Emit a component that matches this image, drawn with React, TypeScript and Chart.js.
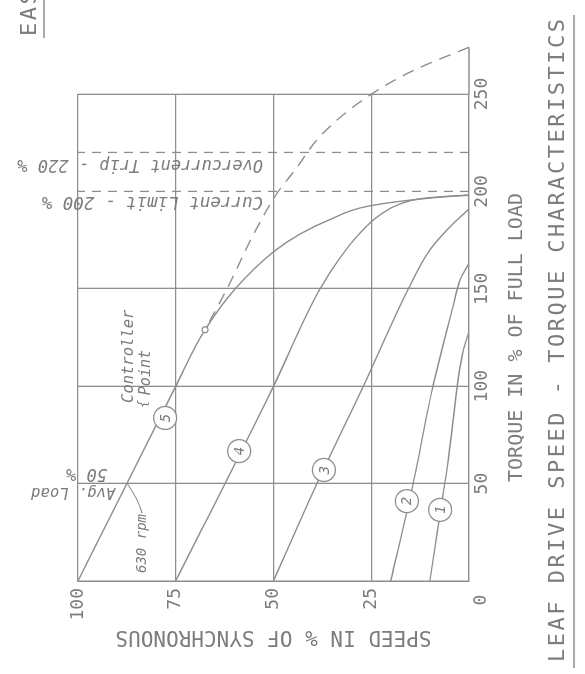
import React, { useEffect, useRef } from "react";
import { Chart, registerables } from "chart.js";

Chart.register(...registerables);

// ---- data (torque in % of full load, speed in % of synchronous) ----
const torqueTicks = [0, 50, 100, 150, 200, 250];
const speedTicks = [0, 25, 50, 75, 100];

const curve1Torque = [0, 36, 62, 100, 118, 128];
const curve1Speed = [10, 7.3, 5.3, 3.0, 1.5, 0];
const curve2Torque = [0, 50, 100, 140, 155, 163];
const curve2Speed = [20, 14.3, 9.2, 4.2, 2.2, 0];
const curve3Torque = [0, 50, 100, 150, 170, 181.7, 191];
const curve3Speed = [50, 38.9, 27, 15.5, 10, 4.9, 0];
const curve4Torque = [0, 100, 150, 165.9, 178.6, 187.9, 193.6, 196.2, 197.4, 198];
const curve4Speed = [75, 50, 38.1, 33.0, 27.9, 22.8, 17.6, 12.5, 6.1, 0];
const curve5Torque = [0, 50, 100, 129, 150, 169, 178, 185.6, 192.5, 196.6, 198.2];
const curve5Speed = [100, 87.5, 75, 67.5, 59.8, 50, 43.3, 35.5, 25.6, 10, 0];
const limitTorque = [129, 150, 177.6, 199, 211, 230, 249.5, 262, 274];
const limitSpeed = [67.5, 61.9, 55.2, 49.1, 44.5, 37.3, 25.3, 14.3, 0];

const currentLimit = 200;
const overcurrentTrip = 220;
const avgLoad = 50;
const controllerPoint = [129, 67.5];

const circleIds = ["1", "2", "3", "4", "5"];
const circleTorque = [36.5, 41, 57, 66.7, 83.7];
const circleSpeed = [7.4, 15.9, 37.1, 58.8, 77.7];

const LINE = "#8e8e8e";
const TEXT = "#7c7c7c";
const MONO = '"DejaVu Sans Mono", monospace';

const pts = (xs: number[], ys: number[]) => xs.map((x, i) => ({ x, y: ys[i] }));

const curveStyle = {
  showLine: true,
  borderColor: LINE,
  borderWidth: 1.4,
  pointRadius: 0,
  fill: false,
  cubicInterpolationMode: "monotone" as const,
};

const textPlugin = {
  id: "leafTexts",
  afterDatasetsDraw(chart: any) {
    const ctx = chart.ctx as CanvasRenderingContext2D;
    const xs = chart.scales.x;
    const ys = chart.scales.y;
    const px = (t: number) => xs.getPixelForValue(t);
    const py = (s: number) => ys.getPixelForValue(s);
    ctx.save();
    ctx.fillStyle = TEXT;
    ctx.strokeStyle = LINE;

    // digits inside circles
    ctx.font = `italic 14px ${MONO}`;
    ctx.textAlign = "center";
    ctx.textBaseline = "middle";
    circleIds.forEach((id, i) => {
      ctx.fillText(id, px(circleTorque[i]), py(circleSpeed[i]) + 1);
    });

    // corner zero
    ctx.font = `18px ${MONO}`;
    ctx.fillText("0", px(-9.8), py(-3.1));

    // vertical annotations (read bottom to top)
    const vtext = (txt: string, x: number, y: number, font: string) => {
      ctx.save();
      ctx.translate(x, y);
      ctx.rotate(-Math.PI / 2);
      ctx.font = font;
      ctx.textAlign = "left";
      ctx.textBaseline = "alphabetic";
      ctx.fillText(txt, 0, 0);
      ctx.restore();
    };
    vtext("Current Limit - 200 %", px(currentLimit) - 6, py(52.7), `italic 17.5px ${MONO}`);
    vtext("Overcurrent Trip - 220 %", px(overcurrentTrip) - 8, py(52.7), `italic 17px ${MONO}`);
    vtext("Avg. Load", px(avgLoad) - 4, py(90.5), `italic 15.5px ${MONO}`);
    vtext("50 %", px(avgLoad) + 15, py(92.6), `italic 17px ${MONO}`);

    // horizontal annotations
    ctx.textAlign = "left";
    ctx.textBaseline = "alphabetic";
    ctx.font = `italic 15.5px ${MONO}`;
    ctx.fillText("Controller", px(91.4), py(85.9));
    ctx.font = `italic 15px ${MONO}`;
    ctx.fillText("Point", px(95.4), py(81.6));
    ctx.font = `italic 13px ${MONO}`;
    ctx.fillText("{", px(89), py(82.3));
    ctx.font = `italic 14px ${MONO}`;
    ctx.fillText("630 rpm", px(4.1), py(82.6));

    // leader from 630 rpm to curve 5
    ctx.lineWidth = 1.2;
    ctx.beginPath();
    ctx.moveTo(px(50.3), py(87.5));
    ctx.quadraticCurveTo(px(42), py(84.6), px(34.9), py(83.6));
    ctx.stroke();

    // main title (below chart in this orientation)
    ctx.font = `22px ${MONO}`;
    (ctx as any).letterSpacing = "2.5px";
    ctx.textBaseline = "middle";
    ctx.fillText("LEAF DRIVE SPEED - TORQUE CHARACTERISTICS", 12, 558);
    ctx.fillText("EAS", 638, 30);
    (ctx as any).letterSpacing = "0px";
    ctx.lineWidth = 1.5;
    ctx.beginPath();
    ctx.moveTo(6, 574);
    ctx.lineTo(659, 574);
    ctx.moveTo(636, 44);
    ctx.lineTo(674, 44);
    ctx.stroke();
    ctx.restore();
  },
};

export default function App() {
  const ref = useRef<HTMLCanvasElement>(null);

  useEffect(() => {
    if (!ref.current) return;
    const chart = new Chart(ref.current, {
      type: "scatter",
      data: {
        datasets: [
          {
            label: "circles",
            data: pts(circleTorque, circleSpeed),
            showLine: false,
            pointStyle: "circle",
            pointRadius: 11.5,
            pointBackgroundColor: "#ffffff",
            pointBorderColor: LINE,
            pointBorderWidth: 1.3,
          },
          {
            label: "controller point",
            data: [{ x: controllerPoint[0], y: controllerPoint[1] }],
            showLine: false,
            pointRadius: 3,
            pointBackgroundColor: "#ffffff",
            pointBorderColor: LINE,
            pointBorderWidth: 1.2,
          },
          { label: "1", data: pts(curve1Torque, curve1Speed), ...curveStyle },
          { label: "2", data: pts(curve2Torque, curve2Speed), ...curveStyle },
          { label: "3", data: pts(curve3Torque, curve3Speed), ...curveStyle },
          { label: "4", data: pts(curve4Torque, curve4Speed), ...curveStyle },
          { label: "5", data: pts(curve5Torque, curve5Speed), ...curveStyle },
          {
            // listed from the far end so every point (also beyond 250 %) is drawn
            label: "limit locus",
            data: pts(limitTorque, limitSpeed).reverse(),
            ...curveStyle,
            borderDash: [12, 8],
            clip: false as any,
          },
          {
            label: "current limit",
            data: [{ x: currentLimit, y: 0 }, { x: currentLimit, y: 100 }],
            showLine: true,
            borderColor: LINE,
            borderWidth: 1.3,
            borderDash: [9, 7],
            pointRadius: 0,
          },
          {
            label: "overcurrent trip",
            data: [{ x: overcurrentTrip, y: 0 }, { x: overcurrentTrip, y: 100 }],
            showLine: true,
            borderColor: LINE,
            borderWidth: 1.3,
            borderDash: [9, 7],
            pointRadius: 0,
          },
          {
            label: "zero speed extension",
            data: [{ x: limitTorque[limitTorque.length - 1], y: 0 }, { x: 250, y: 0 }],
            showLine: true,
            borderColor: LINE,
            borderWidth: 1.3,
            pointRadius: 0,
            clip: false as any,
          },
        ],
      },
      options: {
        responsive: false,
        animation: false,
        devicePixelRatio: 1,
        layout: { padding: { left: 0, right: 94, top: 78, bottom: 0 } },
        plugins: {
          legend: { display: false },
          tooltip: { enabled: false },
          title: { display: false },
        },
        scales: {
          x: {
            type: "linear",
            min: 0,
            max: 250,
            afterBuildTicks: (s: any) => {
              s.ticks = torqueTicks.map((v) => ({ value: v }));
            },
            afterFit: (s: any) => {
              s.height = 116;
            },
            ticks: {
              color: TEXT,
              padding: 3,
              maxRotation: 0,
              font: { family: MONO, size: 18 },
              callback: (v: any) => (Number(v) === 0 ? "" : String(v)),
            },
            grid: {
              drawTicks: false,
              lineWidth: 1.3,
              color: (c: any) => (c.tick && c.tick.value === currentLimit ? "rgba(0,0,0,0)" : LINE),
            },
            border: { display: true, color: LINE, width: 1.3 },
            title: {
              display: true,
              text: "TORQUE IN % OF FULL LOAD",
              color: TEXT,
              font: { family: MONO, size: 20 },
              padding: { top: 0, bottom: 56 },
            },
          },
          y: {
            type: "linear",
            min: 0,
            max: 100,
            afterBuildTicks: (s: any) => {
              s.ticks = speedTicks.map((v) => ({ value: v }));
            },
            afterFit: (s: any) => {
              s.width = 93;
            },
            ticks: {
              color: TEXT,
              padding: 7,
              font: { family: MONO, size: 18 },
              callback: (v: any) => (Number(v) === 0 ? "" : String(v)),
            },
            grid: { drawTicks: false, lineWidth: 1.3, color: LINE },
            border: { display: true, color: LINE, width: 1.3 },
            title: {
              display: true,
              text: "SPEED IN % OF SYNCHRONOUS",
              color: TEXT,
              font: { family: MONO, size: 21 },
              padding: { top: 25, bottom: 0 },
            },
          },
        },
      },
      plugins: [textPlugin],
    } as any);
    return () => chart.destroy();
  }, []);

  return (
    <div
      style={{
        position: "fixed",
        left: 0,
        top: 0,
        width: 585,
        height: 674,
        overflow: "hidden",
        background: "#ffffff",
      }}
    >
      <div
        style={{
          position: "absolute",
          left: 0,
          top: 0,
          width: 674,
          height: 585,
          transformOrigin: "0 0",
          transform: "translate(0px, 674px) rotate(-90deg)",
        }}
      >
        <canvas ref={ref} width={674} height={585} style={{ display: "block", width: 674, height: 585 }} />
      </div>
    </div>
  );
}
